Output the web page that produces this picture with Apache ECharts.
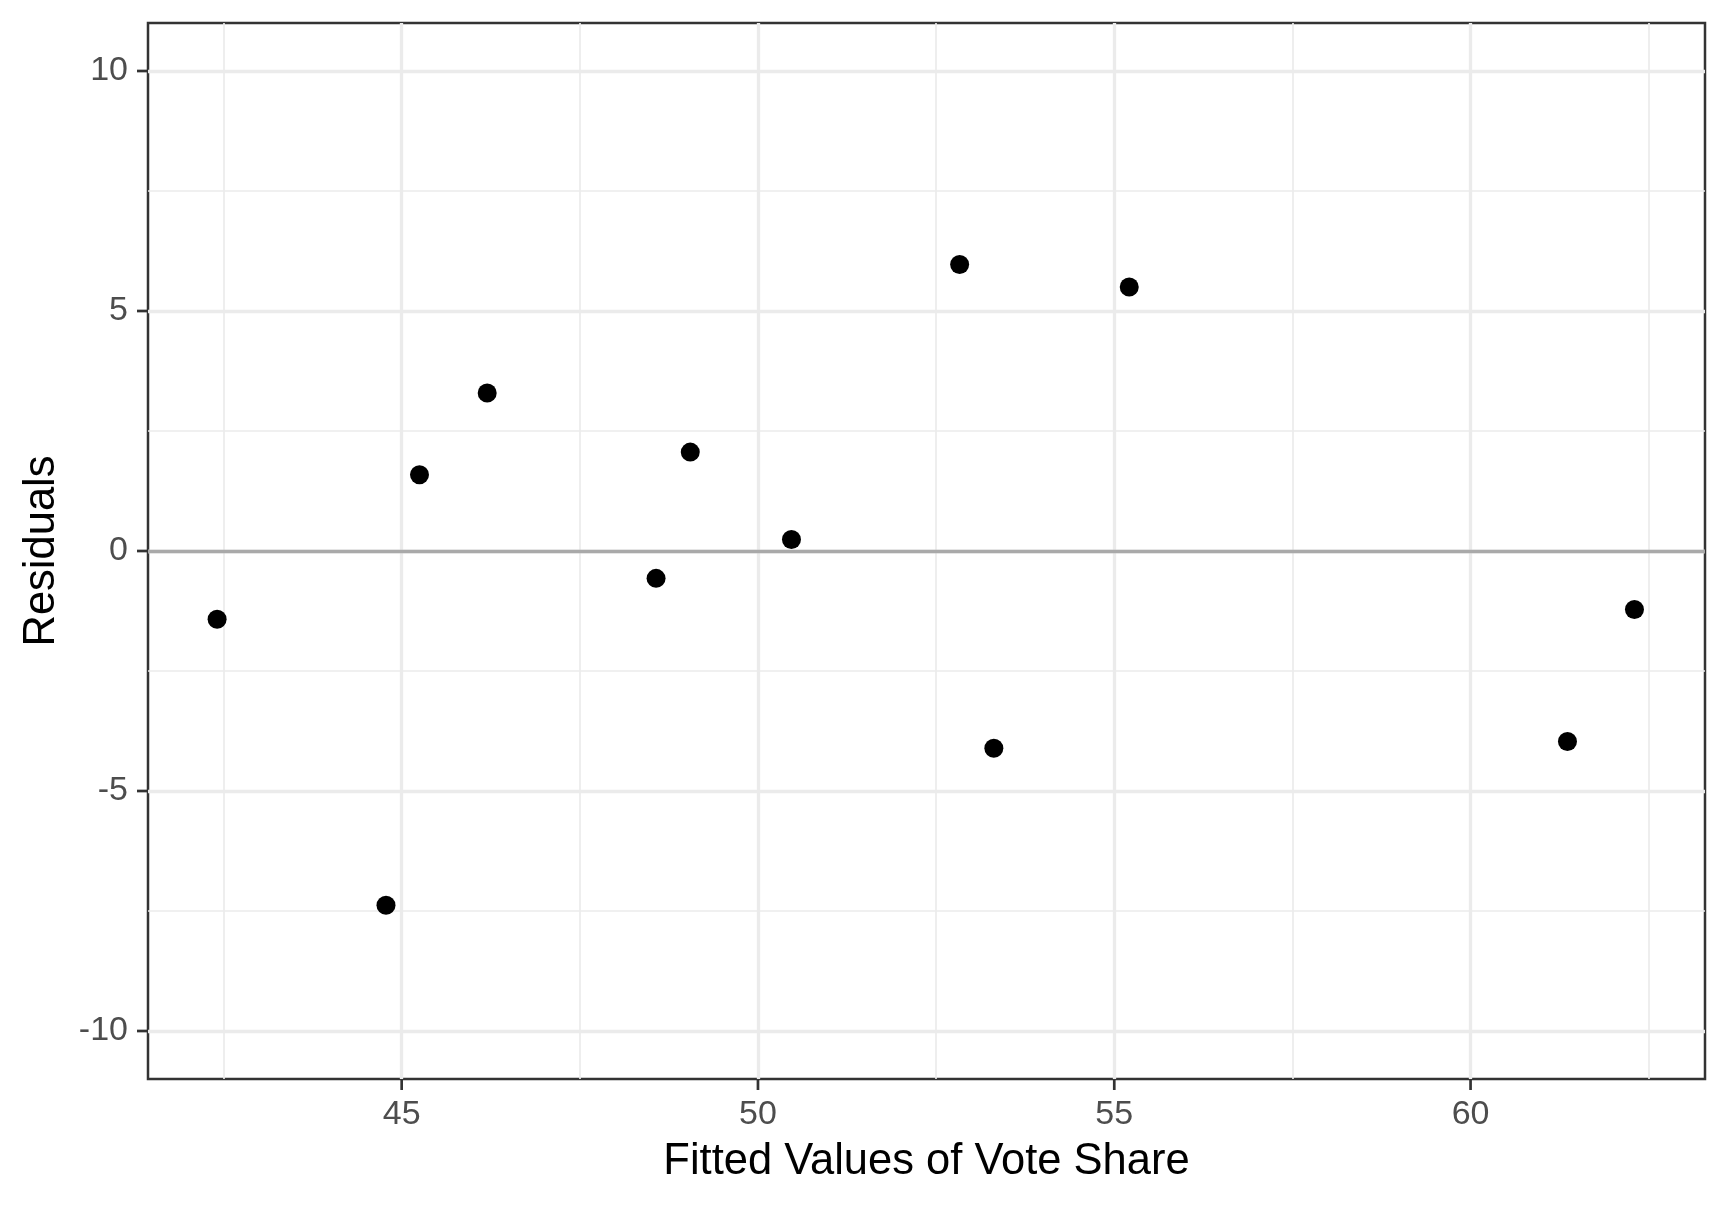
<!DOCTYPE html>
<html>
<head>
<meta charset="utf-8">
<script src="https://cdn.jsdelivr.net/npm/echarts@6/dist/echarts.min.js"></script>
<style>
  html, body { margin: 0; padding: 0; background: #fff; }
  #chart { width: 1728px; height: 1209px; }
</style>
</head>
<body>
<div id="chart"></div>
<script>
// fitted values (x) and residuals (y)
var fitted = [42.41, 44.78, 45.25, 46.20, 48.57, 49.05, 50.47, 52.83, 53.31, 55.21, 61.36, 62.30];
var residuals = [-1.42, -7.38, 1.59, 3.29, -0.57, 2.06, 0.24, 5.97, -4.11, 5.50, -3.97, -1.22];

var xTicks = [45, 50, 55, 60];
var xMinor = [42.5, 47.5, 52.5, 57.5, 62.5];
var yTicks = [-10, -5, 0, 5, 10];
var yMinor = [-7.5, -2.5, 2.5, 7.5];
var refLine = [0];

var xRange = [41.44, 63.29];
var yRange = [-11, 11];

var chart = echarts.init(document.getElementById('chart'));

var points = fitted.map(function (x, i) { return [x, residuals[i]]; });

function gridLines(xs, ys) {
    return xs.map(function (v) { return { xAxis: v }; })
        .concat(ys.map(function (v) { return { yAxis: v }; }));
}

var TICK_LEN = 11;
var tickStyle = { stroke: '#333333', lineWidth: 2.7 };

// ticks outside the panel, drawn through the axis scales
function xTickItem(params, api) {
    var p = api.coord([api.value(0), yRange[0]]);
    return {
        type: 'line',
        shape: { x1: p[0], y1: p[1], x2: p[0], y2: p[1] + TICK_LEN },
        style: tickStyle
    };
}
function yTickItem(params, api) {
    var p = api.coord([xRange[0], api.value(0)]);
    return {
        type: 'line',
        shape: { x1: p[0] - TICK_LEN, y1: p[1], x2: p[0], y2: p[1] },
        style: tickStyle
    };
}

function gridSeries(lines, width, color, z) {
    return {
        type: 'scatter',
        data: [],
        z: z,
        silent: true,
        markLine: {
            silent: true,
            symbol: 'none',
            label: { show: false },
            lineStyle: { color: color, width: width, type: 'solid' },
            data: lines
        }
    };
}

var option = {
    animation: false,
    backgroundColor: '#ffffff',
    textStyle: { fontFamily: 'Liberation Sans, Arial, sans-serif' },
    grid: {
        left: 148,
        right: 23,
        top: 23,
        bottom: 130,
        show: true,
        borderColor: '#333333',
        borderWidth: 2.5,
        backgroundColor: '#ffffff'
    },
    xAxis: {
        type: 'value',
        min: xRange[0],
        max: xRange[1],
        position: 'bottom',
        name: 'Fitted Values of Vote Share',
        nameLocation: 'middle',
        nameGap: 61,
        nameTextStyle: { fontSize: 43.5, color: '#000000' },
        axisLine: { show: false, onZero: false },
        axisTick: { show: false },
        axisLabel: {
            customValues: xTicks,
            fontSize: 34,
            color: '#4d4d4d',
            margin: 19
        },
        splitLine: { show: false }
    },
    yAxis: {
        type: 'value',
        min: yRange[0],
        max: yRange[1],
        position: 'left',
        name: 'Residuals',
        nameLocation: 'middle',
        nameGap: 84,
        nameRotate: 90,
        nameTextStyle: { fontSize: 43.5, color: '#000000' },
        axisLine: { show: false, onZero: false },
        axisTick: { show: false },
        axisLabel: {
            customValues: yTicks,
            fontSize: 34,
            color: '#4d4d4d',
            margin: 20
        },
        splitLine: { show: false }
    },
    series: [
        gridSeries(gridLines(xMinor, yMinor), 1.7, '#ebebeb', 1),
        gridSeries(gridLines(xTicks, yTicks), 3.3, '#ebebeb', 1),
        // horizontal reference at zero
        gridSeries(gridLines([], refLine), 3.3, '#a9a9a9', 2),
        {
            type: 'custom',
            silent: true,
            clip: false,
            data: xTicks.map(function (v) { return [v]; }),
            encode: { x: 0 },
            renderItem: xTickItem
        },
        {
            type: 'custom',
            silent: true,
            clip: false,
            data: yTicks.map(function (v) { return [v]; }),
            encode: { y: 0 },
            renderItem: yTickItem
        },
        {
            type: 'scatter',
            z: 5,
            symbolSize: 19,
            itemStyle: { color: '#000000', opacity: 1 },
            data: points
        }
    ]
};

option && chart.setOption(option);
</script>
</body>
</html>
